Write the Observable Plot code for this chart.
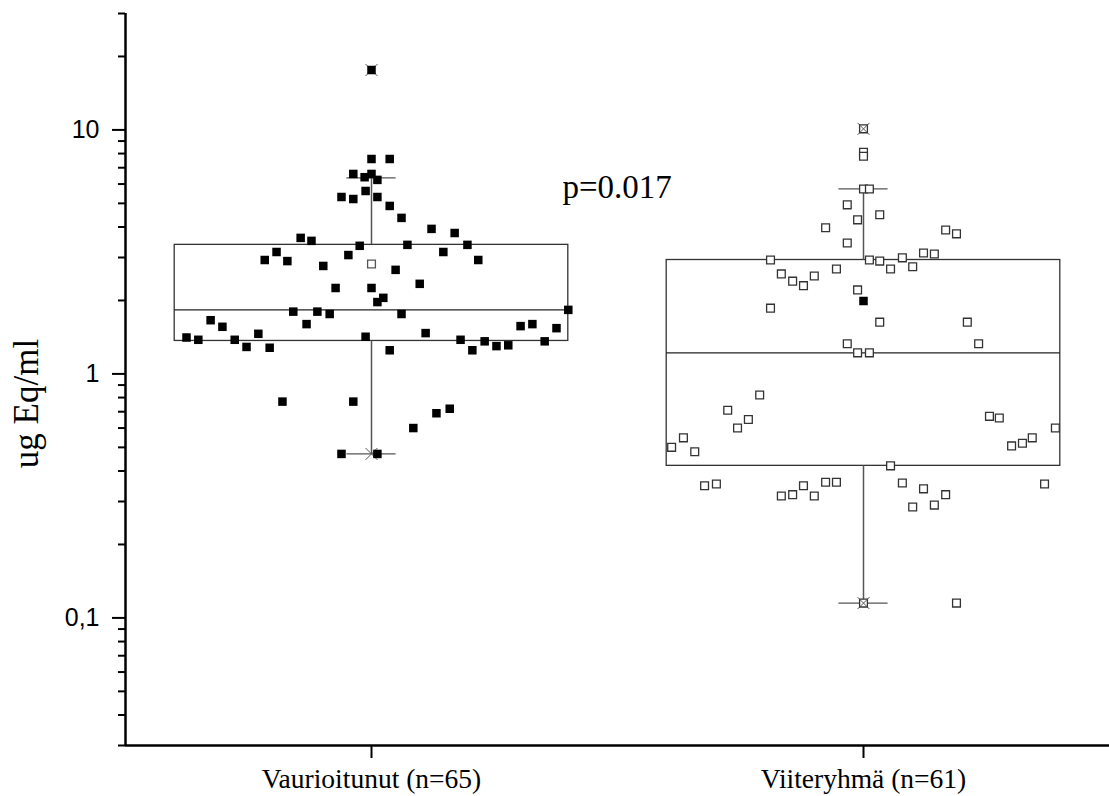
<!DOCTYPE html>
<html>
<head>
<meta charset="utf-8">
<script src="https://cdn.jsdelivr.net/npm/d3@7"></script>
<script src="https://cdn.jsdelivr.net/npm/@observablehq/plot@0.6"></script>
<style>
  html, body { margin: 0; padding: 0; background: #ffffff; }
</style>
</head>
<body>
<div id="chart"></div>
<script>
// ---- Data ----
const categories = ["Vaurioitunut (n=65)", "Viiteryhmä (n=61)"];
const categoryPositions = [1, 2];

// Group 1 (Vaurioitunut) individual values and their horizontal jitter (in category units)
const group1Values = [17.6, 7.6, 7.6, 6.6, 6.6, 6.4, 6.24, 5.31, 5.21, 5.62, 5.31, 4.88, 4.36, 3.93, 3.78,
  3.61, 3.51, 3.35, 3.38, 3.38, 3.16, 2.93, 2.90, 3.16, 2.93, 2.77, 3.07, 2.67, 2.25, 2.25, 2.34, 2.05,
  1.97, 1.80, 1.80, 1.76, 1.76, 1.83, 1.66, 1.56, 1.60, 1.57, 1.60, 1.54, 1.41, 1.38, 1.38, 1.46, 1.29,
  1.28, 1.42, 1.47, 1.25, 1.38, 1.25, 1.36, 1.30, 1.31, 1.36, 0.77, 0.77, 0.60, 0.69, 0.72, 0.47, 0.47];
const group1Jitter = [0, 0, 0.037, -0.037, 0, -0.014, 0.012, -0.061, -0.037, -0.012, 0.012, 0.037, 0.061, 0.122, 0.169,
  -0.144, -0.122, -0.024, 0.073, 0.195, -0.193, -0.217, -0.171, 0.146, 0.217, -0.098, -0.047, 0.049, -0.073, 0, 0.098, 0.024,
  0.012, -0.159, -0.110, -0.085, 0.061, 0.400, -0.327, -0.303, -0.132, 0.303, 0.327, 0.376, -0.376, -0.352, -0.278, -0.230, -0.254,
  -0.207, -0.012, 0.110, 0.037, 0.181, 0.205, 0.230, 0.254, 0.278, 0.352, -0.181, -0.037, 0.085, 0.132, 0.159, -0.061, 0.012];

// Group 2 (Viiteryhmä)
const group2Values = [10.1, 8.1, 7.8, 5.73, 5.73, 4.93, 4.49, 4.28, 3.97, 3.44, 3.89, 3.75, 2.93, 2.93, 2.90, 2.99,
  3.13, 3.10, 2.57, 2.40, 2.30, 2.52, 2.69, 2.69, 2.75, 2.21, 1.86, 1.63, 1.63, 1.33, 1.33, 1.22, 1.22,
  0.82, 0.71, 0.65, 0.60, 0.547, 0.50, 0.48, 0.67, 0.66, 0.60, 0.547, 0.52, 0.507, 0.42, 0.348, 0.354,
  0.316, 0.32, 0.348, 0.316, 0.36, 0.36, 0.357, 0.338, 0.32, 0.285, 0.29, 0.354, 0.115, 0.115];
const group2Jitter = [0, 0, 0, 0, 0.012, -0.033, 0.033, -0.012, -0.077, -0.033, 0.167, 0.189, -0.189, 0.012, 0.033, 0.079,
  0.122, 0.144, -0.167, -0.144, -0.122, -0.100, -0.055, 0.055, 0.100, -0.012, -0.189, 0.033, 0.211, -0.033, 0.234, -0.012, 0.012,
  -0.211, -0.276, -0.234, -0.256, -0.366, -0.390, -0.343, 0.256, 0.276, 0.390, 0.343, 0.323, 0.301, 0.055, -0.323, -0.299,
  -0.167, -0.144, -0.122, -0.100, -0.077, -0.055, 0.079, 0.122, 0.167, 0.100, 0.144, 0.368, 0, 0.189];

// Box statistics per group
const q1Values = [1.365, 0.42];
const medianValues = [1.83, 1.22];
const q3Values = [3.38, 2.93];
const whiskerLow = [0.47, 0.115];
const whiskerHigh = [6.36, 5.73];
const meanValues = [2.82, 1.99];
const minValues = [0.47, 0.115];
const maxValues = [17.6, 10.1];

// Axis ticks
const yMajorTicks = [0.1, 1, 10];
const yMajorLabels = ["0,1", "1", "10"];
const yMinorTicks = [0.03, 0.04, 0.05, 0.06, 0.07, 0.08, 0.09, 0.2, 0.3, 0.4, 0.5, 0.6, 0.7, 0.8, 0.9,
  2, 3, 4, 5, 6, 7, 8, 9, 20, 30];
const yLabel = "ug Eq/ml";
const pValueLabel = "p=0.017";

// ---- Build tables ----
const boxes = categories.map((c, i) => ({
  pos: categoryPositions[i], label: c, q1: q1Values[i], median: medianValues[i], q3: q3Values[i],
  lo: whiskerLow[i], hi: whiskerHigh[i], mean: meanValues[i], min: minValues[i], max: maxValues[i]
}));
const pts1 = group1Values.map((v, i) => ({x: categoryPositions[0] + group1Jitter[i], y: v}));
const pts2 = group2Values.map((v, i) => ({x: categoryPositions[1] + group2Jitter[i], y: v}));

const BOX_HALF = 0.4, CAP_HALF = 0.05;
const serif = "'Liberation Serif', 'Times New Roman', serif";

const chart = Plot.plot({
  width: 1109,
  height: 796,
  marginLeft: 125,
  marginRight: 0,
  marginTop: 13,
  marginBottom: 51,
  style: {fontFamily: "'Liberation Sans', Arial, sans-serif", background: "white", color: "black"},
  x: {type: "linear", domain: [0.5, 2.5]},
  y: {type: "log", domain: [0.03, 30]},
  marks: [
    // box
    Plot.rect(boxes, {x1: d => d.pos - BOX_HALF, x2: d => d.pos + BOX_HALF, y1: "q1", y2: "q3",
      fill: "none", stroke: "#333", strokeWidth: 1.3}),
    Plot.ruleY(boxes, {y: "median", x1: d => d.pos - BOX_HALF, x2: d => d.pos + BOX_HALF,
      stroke: "#222", strokeWidth: 1.2}),
    // whiskers
    Plot.ruleX(boxes, {x: "pos", y1: "q3", y2: "hi", stroke: "#555", strokeWidth: 1.5}),
    Plot.ruleX(boxes, {x: "pos", y1: "lo", y2: "q1", stroke: "#555", strokeWidth: 1.5}),
    Plot.ruleY(boxes, {y: "hi", x1: d => d.pos - CAP_HALF, x2: d => d.pos + CAP_HALF, stroke: "#555", strokeWidth: 1.3}),
    Plot.ruleY(boxes, {y: "lo", x1: d => d.pos - CAP_HALF, x2: d => d.pos + CAP_HALF, stroke: "#555", strokeWidth: 1.3}),
    // extremes (min / max crosses)
    Plot.dot(boxes, {x: "pos", y: "max", symbol: "times", r: 5.5, stroke: "#555", strokeWidth: 1}),
    Plot.dot(boxes, {x: "pos", y: "min", symbol: "times", r: 5.5, stroke: "#555", strokeWidth: 1}),
    // points
    Plot.dot(pts1, {x: "x", y: "y", symbol: "square", r: 4.8, fill: "black", stroke: "none"}),
    Plot.dot(pts2, {x: "x", y: "y", symbol: "square", r: 4.4, fill: "white", stroke: "#333", strokeWidth: 1.3}),
    // extremes overlay for open group (cross inside)
    Plot.dot(boxes.slice(1), {x: "pos", y: "max", symbol: "times", r: 3.5, stroke: "#555", strokeWidth: 1}),
    Plot.dot(boxes.slice(1), {x: "pos", y: "min", symbol: "times", r: 3.5, stroke: "#555", strokeWidth: 1}),
    // means
    Plot.dot(boxes.slice(0, 1), {x: "pos", y: "mean", symbol: "square", r: 4.4, fill: "white", stroke: "#555", strokeWidth: 1.3}),
    Plot.dot(boxes.slice(1), {x: "pos", y: "mean", symbol: "square", r: 4.8, fill: "black", stroke: "none"}),
    // axes
    Plot.axisY({ticks: yMinorTicks, tickFormat: () => "", tickSize: 7, strokeWidth: 2, label: null}),
    Plot.axisY({ticks: yMajorTicks, tickFormat: d => yMajorLabels[yMajorTicks.indexOf(d)],
      tickSize: 13, tickPadding: 13, strokeWidth: 2, fontSize: 25, label: null}),
    Plot.axisX({ticks: categoryPositions, tickFormat: () => "", tickSize: 13, strokeWidth: 2, label: null}),
    Plot.text(boxes, {x: "pos", text: "label", frameAnchor: "bottom", textAnchor: "middle", lineAnchor: "top",
      dy: 22.5, fontSize: 27.5, fontFamily: serif, fill: "black"}),
    Plot.ruleX([0.5], {stroke: "black", strokeWidth: 2.5}),
    Plot.ruleY([0.03], {stroke: "black", strokeWidth: 2.5}),
    // texts
    Plot.text([yLabel], {frameAnchor: "left", textAnchor: "middle", rotate: -90, dx: -99, dy: 24, fontSize: 35,
      fontFamily: serif, fill: "black"}),
    Plot.text([pValueLabel], {frameAnchor: "top-left", textAnchor: "start", lineAnchor: "top",
      dx: 437, dy: 161, fontSize: 33, fontFamily: serif, fill: "black"})
  ]
});
document.getElementById("chart").appendChild(chart);
</script>
</body>
</html>
